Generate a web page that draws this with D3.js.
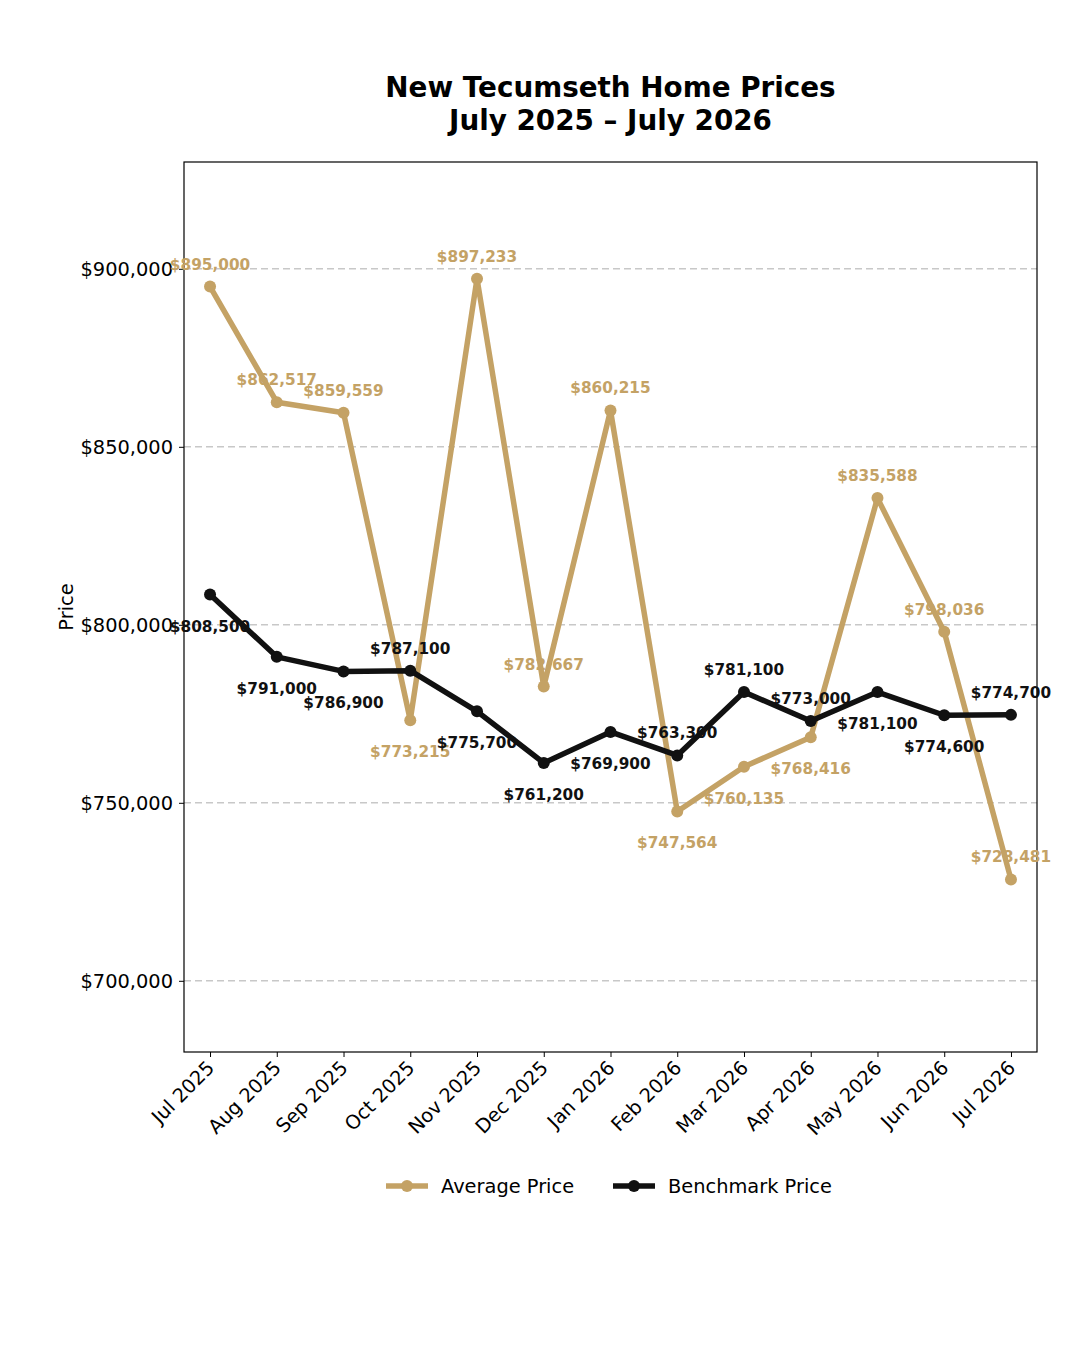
<!DOCTYPE html>
<html>
<head>
<meta charset="utf-8">
<script src="https://cdn.jsdelivr.net/npm/d3@7"></script>
<style>
  body { margin: 0; background: #fff; }
  text { font-family: 'DejaVu Sans', sans-serif; }
</style>
</head>
<body>
<div class="container"></div>
<script>
// chart data
var months = ['Jul 2025', 'Aug 2025', 'Sep 2025', 'Oct 2025', 'Nov 2025', 'Dec 2025', 'Jan 2026',
              'Feb 2026', 'Mar 2026', 'Apr 2026', 'May 2026', 'Jun 2026', 'Jul 2026']
var averagePrice = [895000, 862517, 859559, 773215, 897233, 782667, 860215,
                    747564, 760135, 768416, 835588, 798036, 728481]
var benchmarkPrice = [808500, 791000, 786900, 787100, 775700, 761200, 769900,
                      763300, 781100, 773000, 781100, 774600, 774700]
var yTicks = [700000, 750000, 800000, 850000, 900000]

var w = 1080, h = 1350
var pLeft = 184, pRight = 1037, pTop = 162, pBottom = 1052
var gold = '#C4A265', black = '#111111'

var svg = d3.select('.container')
    .append('svg')
    .attr('width', w)
    .attr('height', h)

var x = d3.scaleLinear()
    .domain([-0.39, months.length - 1 + 0.39])
    .range([pLeft, pRight])

var y = d3.scaleLinear()
    .domain([680000, 930000])
    .range([pBottom, pTop])

var fmt = d3.format('$,')

// title
svg.append('text')
    .attr('x', (pLeft + pRight) / 2)
    .attr('y', 97)
    .attr('text-anchor', 'middle')
    .style('font-size', '27.8px')
    .style('font-weight', 'bold')
    .text('New Tecumseth Home Prices')
svg.append('text')
    .attr('x', (pLeft + pRight) / 2)
    .attr('y', 130)
    .attr('text-anchor', 'middle')
    .style('font-size', '27.8px')
    .style('font-weight', 'bold')
    .text('July 2025 \u2013 July 2026')

// grid
svg.append('g')
    .selectAll('line')
    .data(yTicks)
    .enter()
    .append('line')
    .attr('x1', pLeft)
    .attr('x2', pRight)
    .attr('y1', d => y(d))
    .attr('y2', d => y(d))
    .style('stroke', '#c8c8c8')
    .style('stroke-width', 1.5)
    .style('stroke-dasharray', '7,4')

// axes
var yAxis = svg.append('g')
    .attr('transform', 'translate(' + pLeft + ',0)')
    .call(d3.axisLeft(y).tickValues(yTicks).tickFormat(fmt).tickSize(5).tickPadding(6))
yAxis.select('.domain').remove()
yAxis.selectAll('text').style('font-size', '19.4px').style('fill', '#000')

var xAxis = svg.append('g')
    .attr('transform', 'translate(0,' + pBottom + ')')
    .call(d3.axisBottom(x).tickValues(d3.range(months.length)).tickFormat(i => months[i]).tickSize(5))
xAxis.select('.domain').remove()
xAxis.selectAll('text')
    .style('font-size', '19.4px')
    .style('fill', '#000')
    .attr('text-anchor', 'end')
    .attr('dy', null)
    .attr('y', 0)
    .attr('transform', 'translate(5,17) rotate(-45)')

svg.append('rect')
    .attr('x', pLeft)
    .attr('y', pTop)
    .attr('width', pRight - pLeft)
    .attr('height', pBottom - pTop)
    .style('fill', 'none')
    .style('stroke', '#000')
    .style('stroke-width', 1.2)

svg.append('text')
    .attr('transform', 'translate(73,' + (pTop + pBottom) / 2 + ') rotate(-90)')
    .attr('text-anchor', 'middle')
    .style('font-size', '19.4px')
    .text('Price')

// series
var series = [
    { name: 'Average Price', values: averagePrice, other: benchmarkPrice, color: gold },
    { name: 'Benchmark Price', values: benchmarkPrice, other: averagePrice, color: black }
]

var line = d3.line()
    .x((d, i) => x(i))
    .y(d => y(d))

series.forEach(s => {
    var g = svg.append('g')
    g.append('path')
        .attr('d', line(s.values))
        .style('fill', 'none')
        .style('stroke', s.color)
        .style('stroke-width', 5.5)
        .style('stroke-linejoin', 'round')

    g.selectAll('circle')
        .data(s.values)
        .enter()
        .append('circle')
        .attr('cx', (d, i) => x(i))
        .attr('cy', d => y(d))
        .attr('r', 6)
        .style('fill', s.color)

    // label above when higher than the other series, last point always above
    g.selectAll('.lbl')
        .data(s.values)
        .enter()
        .append('text')
        .attr('class', 'lbl')
        .attr('x', (d, i) => x(i))
        .attr('y', (d, i) => (d > s.other[i] || i == s.values.length - 1) ? y(d) - 17 : y(d) + 37)
        .attr('text-anchor', 'middle')
        .style('font-size', '15.3px')
        .style('font-weight', 'bold')
        .style('fill', s.color)
        .text(d => fmt(d))
})

// legend
var legend = svg.append('g')
var lx = [386, 613]
series.forEach((s, i) => {
    legend.append('line')
        .attr('x1', lx[i]).attr('x2', lx[i] + 42)
        .attr('y1', 1186).attr('y2', 1186)
        .style('stroke', s.color)
        .style('stroke-width', 5.5)
    legend.append('circle')
        .attr('cx', lx[i] + 21)
        .attr('cy', 1186)
        .attr('r', 6)
        .style('fill', s.color)
    legend.append('text')
        .attr('x', lx[i] + 55)
        .attr('y', 1193)
        .style('font-size', '19.4px')
        .text(s.name)
})
</script>
</body>
</html>
